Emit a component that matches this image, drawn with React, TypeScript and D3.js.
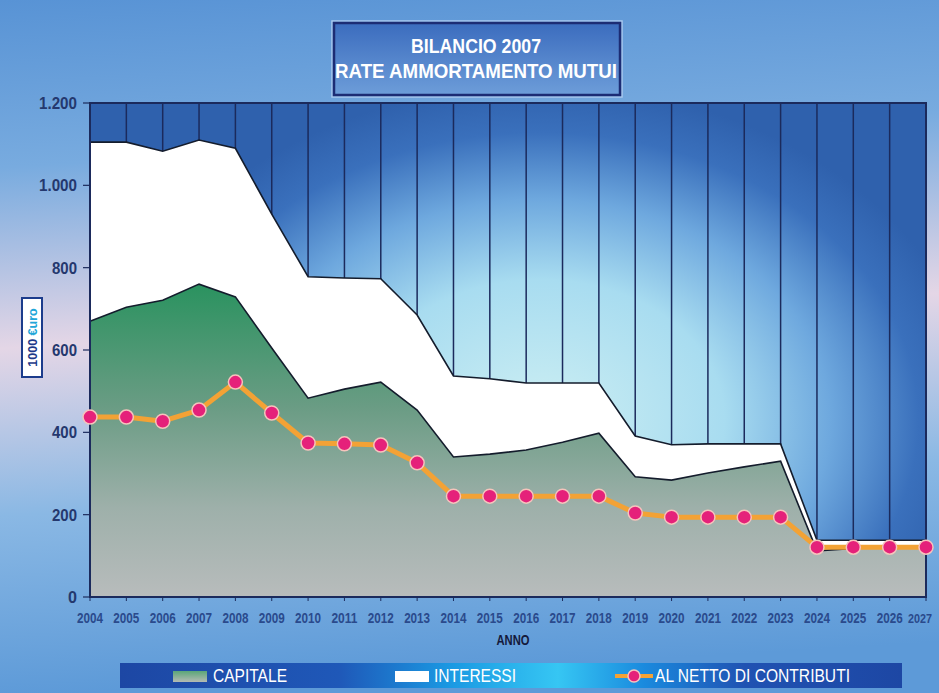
import React from "react";
import * as d3 from "d3";

const years = [2004, 2005, 2006, 2007, 2008, 2009, 2010, 2011, 2012, 2013, 2014, 2015, 2016, 2017, 2018, 2019, 2020, 2021, 2022, 2023, 2024, 2025, 2026, 2027];
const capitale = [670, 704, 721, 760, 729, 605, 483, 505, 522, 454, 340, 347, 357, 376, 398, 292, 284, 301, 316, 330, 112, 118, 122, 125];
const interessi = [435, 401, 362, 350, 361, 325, 295, 270, 251, 231, 197, 183, 163, 144, 122, 99, 86, 71, 56, 42, 26, 20, 16, 13];
const netto = [437, 437, 427, 454, 522, 447, 374, 372, 369, 326, 245, 245, 245, 245, 245, 204, 194, 194, 194, 194, 121, 121, 121, 121];
const yTicks = [0, 200, 400, 600, 800, 1000, 1200];
const yTickLabels = ["0", "200", "400", "600", "800", "1.000", "1.200"];

const W = 939;
const H = 693;
const PL = 90, PR = 926, PT = 103, PB = 597;
const NARROW = "'Liberation Sans Narrow', 'Arial Narrow', 'Liberation Sans', Arial, sans-serif";
const SANS = "'Liberation Sans', Arial, sans-serif";

export default function App() {
  const x = d3.scaleLinear().domain([2004, 2027]).range([PL, PR]);
  const y = d3.scaleLinear().domain([0, 1200]).range([PB, PT]);

  const rows = years.map((yr, i) => ({ year: yr, capitale: capitale[i], interessi: interessi[i] }));
  const stack = d3.stack<any>().keys(["capitale", "interessi"]);
  const series = stack(rows);

  const area = d3
    .area<any>()
    .x((d: any) => x(d.data.year))
    .y0((d: any) => y(d[0]))
    .y1((d: any) => y(d[1]));
  const topLine = d3
    .line<any>()
    .x((d: any) => x(d.data.year))
    .y((d: any) => y(d[1]));
  const nettoLine = d3
    .line<number>()
    .x((_, i) => x(years[i]))
    .y((d) => y(d));

  const navy = "#1b2a5c";
  const labelColor = "#24386e";
  const lastYear = years[years.length - 1];

  return (
    <svg width={W} height={H} style={{ display: "block", position: "absolute", left: 0, top: 0 }}>
      <defs>
        <linearGradient id="bg" x1="0" y1="0" x2="0.08" y2="1">
          <stop offset="0" stopColor="#5893d5" />
          <stop offset="0.24" stopColor="#78abdf" />
          <stop offset="0.5" stopColor="#e4d6e6" />
          <stop offset="0.74" stopColor="#8ab8e4" />
          <stop offset="1" stopColor="#5d9ad8" />
        </linearGradient>
        <radialGradient
          id="plotbg"
          gradientUnits="userSpaceOnUse"
          cx={540}
          cy={420}
          r={440}
          gradientTransform="translate(540,420) scale(1,0.76) translate(-540,-420)"
        >
          <stop offset="0" stopColor="#cdeff3" />
          <stop offset="0.42" stopColor="#a8dcf0" />
          <stop offset="0.66" stopColor="#6ea8de" />
          <stop offset="0.86" stopColor="#3a70bc" />
          <stop offset="1" stopColor="#2f61ad" />
        </radialGradient>
        <linearGradient id="green" gradientUnits="userSpaceOnUse" x1="0" y1={280} x2="0" y2={PB}>
          <stop offset="0" stopColor="#28925e" />
          <stop offset="0.4" stopColor="#6a9c84" />
          <stop offset="0.72" stopColor="#9eb0aa" />
          <stop offset="1" stopColor="#b8bcbc" />
        </linearGradient>
        <linearGradient id="greenSw" x1="0" y1="0" x2="0" y2="1">
          <stop offset="0" stopColor="#5aa678" />
          <stop offset="1" stopColor="#b4bab4" />
        </linearGradient>
        <linearGradient id="legbg" x1="0" y1="0" x2="1" y2="0">
          <stop offset="0" stopColor="#1d47a4" />
          <stop offset="0.28" stopColor="#1f58b8" />
          <stop offset="0.42" stopColor="#1a98e2" />
          <stop offset="0.56" stopColor="#36c6f3" />
          <stop offset="0.67" stopColor="#1a8ade" />
          <stop offset="0.8" stopColor="#2052b2" />
          <stop offset="1" stopColor="#1d47a4" />
        </linearGradient>
        <linearGradient id="titlebg" x1="0" y1="0" x2="0" y2="1">
          <stop offset="0" stopColor="#3b6cbe" />
          <stop offset="1" stopColor="#6d9dd9" />
        </linearGradient>
      </defs>

      <rect x={0} y={0} width={W} height={H} fill="url(#bg)" />

      {/* title */}
      <rect x={332} y={21} width={290} height={76} fill="none" stroke="#a9c8ee" strokeWidth={1.5} />
      <rect x={334} y={23} width={286} height={72} fill="url(#titlebg)" stroke="#1c2c74" strokeWidth={2.5} />
      <text x={476} y={53} textAnchor="middle" fill="#ffffff" fontFamily={SANS} fontWeight="bold" fontSize={20} textLength={130} lengthAdjust="spacingAndGlyphs">
        BILANCIO 2007
      </text>
      <text x={476} y={78} textAnchor="middle" fill="#ffffff" fontFamily={SANS} fontWeight="bold" fontSize={20} textLength={282} lengthAdjust="spacingAndGlyphs">
        RATE AMMORTAMENTO MUTUI
      </text>

      {/* plot background */}
      <rect x={PL} y={PT} width={PR - PL} height={PB - PT} fill="url(#plotbg)" />
      {years.map((yr) => (
        <line key={yr} x1={x(yr)} x2={x(yr)} y1={PT} y2={PB} stroke={navy} strokeWidth={1.5} />
      ))}

      {/* areas */}
      <path d={area(series[1] as any) || ""} fill="#ffffff" />
      <path d={area(series[0] as any) || ""} fill="url(#green)" />
      <path d={topLine(series[1] as any) || ""} fill="none" stroke="#141c2c" strokeWidth={1.6} />
      <path d={topLine(series[0] as any) || ""} fill="none" stroke="#141c2c" strokeWidth={1.6} />

      {/* plot border */}
      <rect x={PL} y={PT} width={PR - PL} height={PB - PT} fill="none" stroke={navy} strokeWidth={2} />

      {/* netto line */}
      <path d={nettoLine(netto) || ""} fill="none" stroke="#f3a235" strokeWidth={5} strokeLinejoin="round" />
      {netto.map((v, i) => (
        <circle key={i} cx={x(years[i])} cy={y(v)} r={7} fill="#e5217a" stroke="#f6c4bc" strokeWidth={1.5} />
      ))}

      {/* y axis */}
      {yTicks.map((t, i) => (
        <g key={t}>
          <line x1={83} x2={PL} y1={y(t)} y2={y(t)} stroke={navy} strokeWidth={1.2} />
          <text
            x={77}
            y={y(t) + 6}
            textAnchor="end"
            fill={labelColor}
            fontFamily={SANS}
            fontWeight="bold"
            fontSize={17}
            textLength={yTickLabels[i].length === 5 ? 38 : yTickLabels[i].length === 3 ? 25 : 9}
            lengthAdjust="spacingAndGlyphs"
          >
            {yTickLabels[i]}
          </text>
        </g>
      ))}

      {/* y label box */}
      <rect x={22} y={298} width={20} height={79} fill="#ffffff" stroke="#1c3c8c" strokeWidth={2} />
      <text transform="translate(36.5,337.5) rotate(-90)" textAnchor="middle" fontFamily={SANS} fontWeight="bold" fontSize={12.5}>
        <tspan fill="#1c3a8a">1000 </tspan>
        <tspan fill="#22a6d8">€uro</tspan>
      </text>

      {/* x axis */}
      {years.map((yr) => (
        <g key={"x" + yr}>
          <line x1={x(yr)} x2={x(yr)} y1={PB} y2={PB + 4} stroke={navy} strokeWidth={1} />
          <text
            x={yr === lastYear ? 920 : x(yr)}
            y={623}
            textAnchor="middle"
            fill="#2a4a8c"
            fontFamily={NARROW}
            fontWeight="bold"
            fontSize={yr === lastYear ? 13 : 14}
            textLength={yr === lastYear ? 24 : 26}
            lengthAdjust="spacingAndGlyphs"
          >
            {yr}
          </text>
        </g>
      ))}
      <text x={513} y={645} textAnchor="middle" fill="#141a3c" fontFamily={NARROW} fontWeight="bold" fontSize={14} textLength={33} lengthAdjust="spacingAndGlyphs">
        ANNO
      </text>

      {/* legend */}
      <rect x={120} y={663} width={782} height={25} fill="url(#legbg)" />
      <rect x={173} y={671} width={34} height={11} fill="url(#greenSw)" />
      <text x={213} y={682} fill="#ffffff" fontFamily={NARROW} fontSize={18} textLength={74} lengthAdjust="spacingAndGlyphs">
        CAPITALE
      </text>
      <rect x={395} y={671} width={34} height={11} fill="#ffffff" />
      <text x={434} y={682} fill="#ffffff" fontFamily={NARROW} fontSize={18} textLength={82} lengthAdjust="spacingAndGlyphs">
        INTERESSI
      </text>
      <line x1={615} x2={653} y1={676} y2={676} stroke="#f3a235" strokeWidth={4} />
      <circle cx={634} cy={676} r={6} fill="#e5217a" stroke="#f6c4bc" strokeWidth={1.5} />
      <text x={655} y={682} fill="#ffffff" fontFamily={NARROW} fontSize={18} textLength={195} lengthAdjust="spacingAndGlyphs">
        AL NETTO DI CONTRIBUTI
      </text>
    </svg>
  );
}
